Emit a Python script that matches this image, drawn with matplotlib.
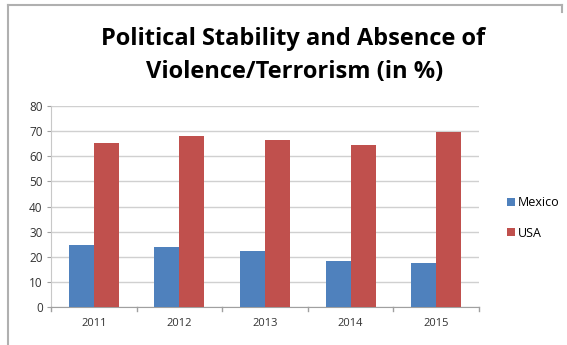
import matplotlib
matplotlib.use("Agg")
import matplotlib.pyplot as plt
import numpy as np
from matplotlib.lines import Line2D
from matplotlib.patches import Patch

years = ["2011", "2012", "2013", "2014", "2015"]
mexico = [24.8, 23.9, 22.4, 18.5, 17.4]
usa = [65.2, 68.1, 66.4, 64.5, 69.5]
series_names = ["Mexico", "USA"]
title_lines = ["Political Stability and Absence of", "Violence/Terrorism (in %)"]

plt.rcParams['font.family'] = ['Open Sans', 'DejaVu Sans']

W, H = 567, 345
fig = plt.figure(figsize=(W/100, H/100), dpi=100)
ax = fig.add_axes([51/W, 1-307/H, (479-51)/W, (307-106)/H])

x = np.arange(len(years))
bw = 0.293
blue = "#4F81BD"
red = "#C0504D"
ax.bar(x - bw/2, mexico, bw, color=blue, zorder=3)
ax.bar(x + bw/2, usa, bw, color=red, zorder=3)

ax.set_xlim(-0.5, len(years) - 0.5)
ax.set_ylim(0, 80)
ax.set_yticks(np.arange(0, 81, 10))
ax.yaxis.grid(True, color="#d0d0d0", linewidth=1, zorder=0)
ax.set_xticks(x)
ax.set_xticklabels(years)
ax.tick_params(axis='x', length=0, labelsize=8, colors="#333333", pad=8)
ax.tick_params(axis='y', length=3, color="#a0a0a0", labelsize=8.5, labelcolor="#333333", pad=3)
for b in np.arange(-0.5, len(years), 1):
    ax.plot([b, b], [0, -1.6], color="#a0a0a0", lw=1, clip_on=False, zorder=4)
for s in ["top", "right"]:
    ax.spines[s].set_visible(False)
ax.spines["left"].set_color("#c8c8c8")
ax.spines["bottom"].set_color("#a0a0a0")

fig.text(293/W, 1-39/H, title_lines[0], ha="center", va="center", fontsize=17,
         fontweight="bold", color="black")
fig.text(295/W, 1-72/H, title_lines[1], ha="center", va="center", fontsize=17,
         fontweight="bold", color="black")

handles = [Patch(facecolor=blue), Patch(facecolor=red)]
fig.legend(handles, series_names, loc="center left", bbox_to_anchor=(496/W, 1-218/H),
           frameon=False, fontsize=9, handlelength=0.6, handleheight=0.6,
           handletextpad=0.25, labelspacing=1.4)

# outer frame
fig.add_artist(Line2D([8/W, 8/W], [0, 1-5/H], transform=fig.transFigure, color="#b0b0b0", lw=1.5))
fig.add_artist(Line2D([8/W, 562/W], [1-5/H, 1-5/H], transform=fig.transFigure, color="#b0b0b0", lw=1.5))
fig.add_artist(Line2D([562/W, 562/W], [1-5/H, 1-12/H], transform=fig.transFigure, color="#b0b0b0", lw=1.5))

fig.savefig("out.png", dpi=100)
